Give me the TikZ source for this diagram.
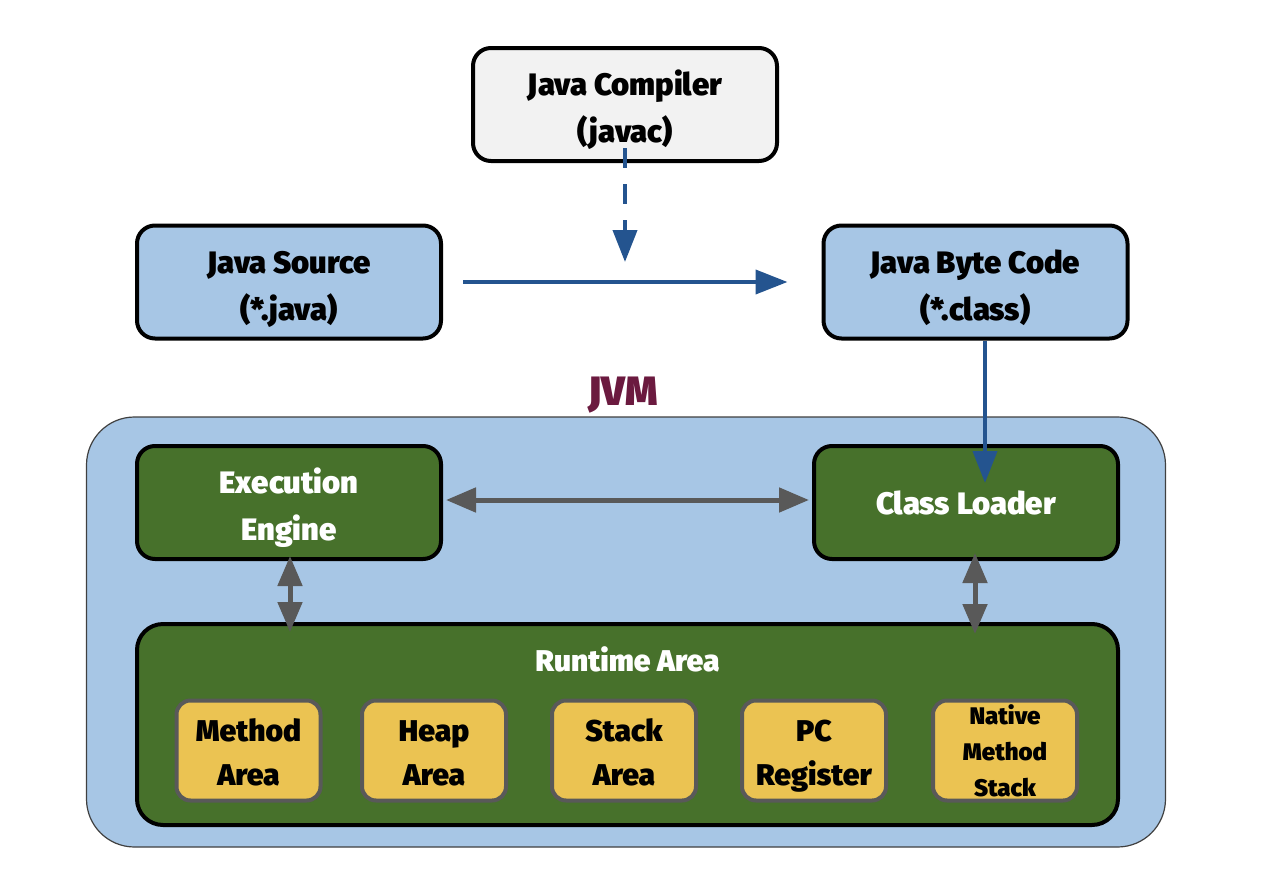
\documentclass[tikz,border=0pt]{standalone}
\usepackage{fontspec}
\IfFontExistsTF{Fira Sans Black}{\setmainfont{Fira Sans Black}[BoldFont=*]}{\setmainfont{Fira Sans}[UprightFont=* Bold, BoldFont=* Bold, FakeBold=2.5]}
\usetikzlibrary{arrows.meta}
\definecolor{lblue}{HTML}{A7C6E5}
\definecolor{lgrey}{HTML}{F2F2F2}
\definecolor{dgreen}{HTML}{47712B}
\definecolor{yel}{HTML}{EBC352}
\definecolor{abl}{HTML}{24548F}
\definecolor{agr}{HTML}{595959}
\definecolor{maroon}{HTML}{6B1A3F}
\tikzset{
  box/.style={draw=black, line width=4pt, rounded corners=18pt, minimum width=304pt, minimum height=113pt, align=center, font=\fontsize{31}{47}\selectfont},
  twoline/.style={text height=84pt, text depth=8pt},
  bluebox/.style={box, twoline, fill=lblue},
  greenbox/.style={box, fill=dgreen, text=white},
  membox/.style={draw=agr, line width=4pt, rounded corners=14pt, fill=yel, minimum width=144pt, minimum height=100pt, align=center, font=\fontsize{30}{44}\selectfont, text height=70pt, text depth=0pt},
  bluearrow/.style={draw=abl, line width=4pt, -{Triangle[width=24pt,length=32pt]}},
  greyarrow/.style={draw=agr, line width=5pt, {Triangle[width=24pt,length=30pt]}-{Triangle[width=24pt,length=30pt]}},
}
\begin{document}
\begin{tikzpicture}[x=1pt,y=-1pt]
\useasboundingbox (0,0) rectangle (1280,889);
\fill[white] (0,0) rectangle (1280,889);
% JVM container
\node[draw=black!75, line width=1.2pt, fill=lblue, rounded corners=48pt, minimum width=1079pt, minimum height=430pt] (jvm) at (626,632) {};
\node[text=maroon, font=\fontsize{41}{48}\selectfont] (jvmlabel) at (623,395) {JVM};
% top row
\node[box, twoline, fill=lgrey] (jc) at (625,104.5) {Java Compiler\\(javac)};
\node[bluebox] (src) at (289,282) {Java Source\\(*.java)};
\node[bluebox] (bc) at (975.5,282) {Java Byte Code\\(*.class)};
% JVM internals
\node[greenbox, twoline] (ee) at (289,502.5) {Execution\\Engine};
\node[greenbox] (cl) at (966,502.5) {Class Loader};
\node[draw=black, line width=4pt, rounded corners=26pt, fill=dgreen, minimum width=981pt, minimum height=201pt] (rt) at (627.5,724.5) {};
\node[text=white, font=\fontsize{30}{36}\selectfont] (rtlabel) at (627.5,659) {Runtime Area};
\node[membox] (ma) at (248.5,750.5) {Method\\Area};
\node[membox] (ha) at (434,750.5) {Heap\\Area};
\node[membox] (sa) at (624,750.5) {Stack\\Area};
\node[membox] (pc) at (814,750.5) {PC\\Register};
\node[membox, font=\fontsize{24}{36}\selectfont, text height=92pt, text depth=0pt] (nm) at (1005,750.5) {Native\\Method\\Stack};
% connectors
\coordinate (dashend) at (625,262);
\draw[bluearrow, dash pattern=on 20pt off 16pt] ([yshift=15pt]jc.south) -- (dashend);
\draw[bluearrow, shorten <=20pt, shorten >=34pt] (src.east |- 0,282) -- (bc.west |- 0,282);
\coordinate (cltip) at (985,483);
\draw[bluearrow] ([xshift=9.5pt]bc.south) -- (cltip);
\draw[greyarrow, shorten <=3pt, shorten >=3pt] ([yshift=2.5pt]ee.east) -- ([yshift=2.5pt]cl.west);
\draw[greyarrow, shorten <=-5pt, shorten >=-10pt] ([xshift=1pt]ee.south) -- ([xshift=1pt]ee.south |- rt.north);
\draw[greyarrow, shorten <=-8pt, shorten >=-12pt] ([xshift=9pt]cl.south) -- ([xshift=9pt]cl.south |- rt.north);
\end{tikzpicture}
\end{document}
